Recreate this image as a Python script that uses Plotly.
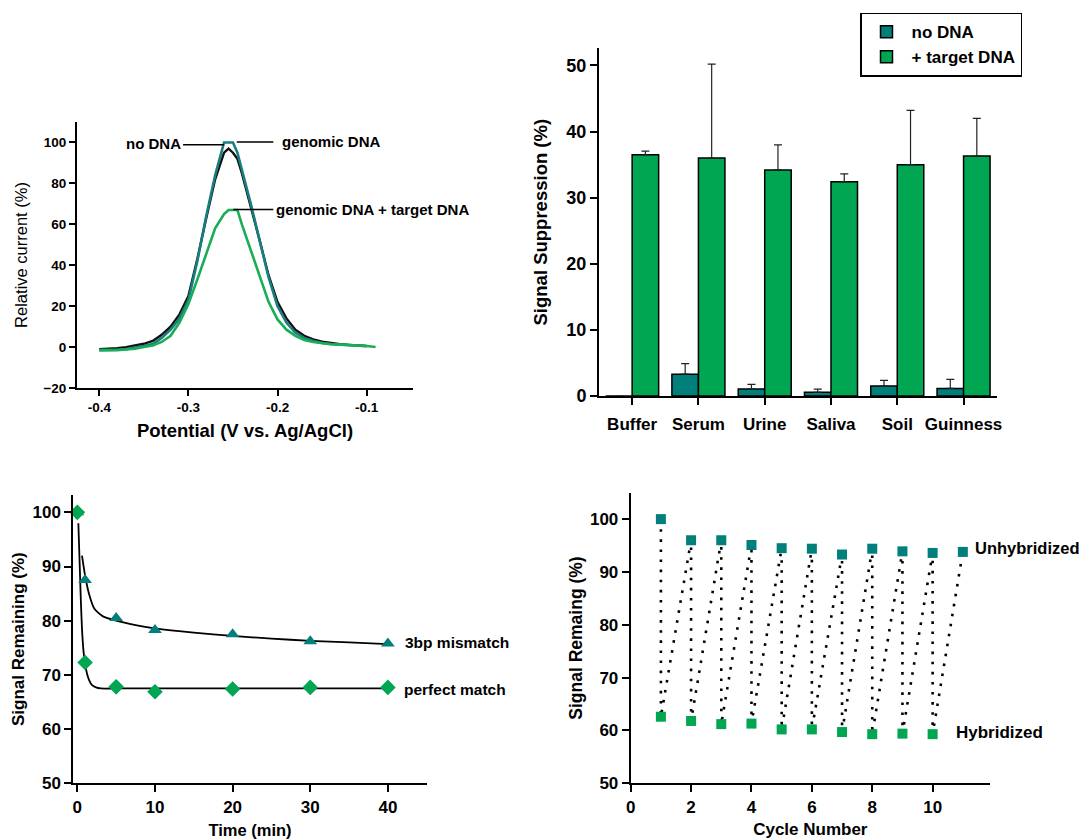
import plotly.graph_objects as go

FONT = "Liberation Sans, Arial, Helvetica, sans-serif"
TEAL = "#007f7b"
GREEN = "#00a651"
TEAL_LINE = "#1a7d80"
GREEN_LINE = "#19ad55"

# ---------------- Panel A: voltammograms ----------------
potential = [-0.40, -0.39, -0.38, -0.37, -0.36, -0.35, -0.34, -0.33, -0.32, -0.31,
             -0.30, -0.29, -0.28, -0.27, -0.26, -0.255, -0.25, -0.245, -0.24, -0.23,
             -0.22, -0.21, -0.20, -0.19, -0.18, -0.17, -0.16, -0.15, -0.14, -0.13,
             -0.12, -0.11, -0.10, -0.09]
cur_no_dna = [-1.0, -0.8, -0.5, 0.0, 0.8, 1.6, 3.0, 6.0, 10.0, 16.0,
              25.0, 43.0, 63.0, 82.0, 95.0, 97.0, 95.0, 92.0, 85.0, 69.0,
              52.0, 35.0, 22.0, 14.0, 8.5, 5.5, 3.8, 2.6, 1.9, 1.4,
              1.1, 0.9, 0.6, None]
cur_genomic = [-1.5, -1.5, -1.3, -1.0, -0.3, 0.5, 1.5, 4.5, 8.5, 14.0,
               23.0, 42.0, 64.0, 84.0, 100.0, 100.0, 100.0, 95.0, 87.0, 70.0,
               52.0, 34.0, 20.0, 12.0, 7.0, 4.5, 3.0, 2.0, 1.5, 1.2,
               1.0, 0.8, 0.4, None]
cur_target = [-1.5, -1.6, -1.5, -1.2, -0.8, 0.0, 0.8, 2.5, 5.5, 12.0,
              21.0, 33.0, 46.0, 58.0, 65.0, 67.0, 67.0, 67.0, 60.0, 47.0,
              34.0, 22.0, 13.5, 8.5, 5.5, 3.5, 2.5, 1.8, 1.4, 1.2,
              1.0, 0.8, 0.5, 0.0]

# ---------------- Panel B: bars ----------------
matrices = ["Buffer", "Serum", "Urine", "Saliva", "Soil", "Guinness"]
supp_no_dna = [0.0, 3.3, 1.05, 0.55, 1.5, 1.15]
supp_no_dna_err = [0.0, 1.6, 0.7, 0.5, 0.85, 1.35]
supp_target = [36.5, 36.0, 34.2, 32.4, 35.0, 36.3]
supp_target_err = [0.55, 14.2, 3.8, 1.2, 8.2, 5.7]

# ---------------- Panel C: kinetics ----------------
time_min = [0, 1, 5, 10, 20, 30, 40]
mismatch = [100.0, 87.5, 80.5, 78.3, 77.5, 76.2, 75.8]
perfect = [100.0, 72.3, 67.8, 66.9, 67.4, 67.7, 67.7]
fit_mm_t = [0.6, 1.0, 1.5, 2.2, 3.3, 5, 7.5, 10, 15, 20, 25, 30, 35, 40]
fit_mm_v = [92.0, 88.3, 85.0, 82.2, 80.8, 80.0, 79.2, 78.6, 77.8, 77.2, 76.7, 76.3, 76.0, 75.7]
fit_pm_t = [0.13, 0.3, 0.45, 0.6, 0.8, 1.0, 1.25, 1.5, 1.9, 2.4, 3, 5, 10, 20, 30, 40]
fit_pm_v = [98.0, 90.5, 83.8, 78.5, 74.3, 72.0, 70.2, 69.1, 68.1, 67.7, 67.5, 67.5, 67.5, 67.5, 67.5, 67.5]

# ---------------- Panel D: regeneration cycles ----------------
cycles_u = [1, 2, 3, 4, 5, 6, 7, 8, 9, 10, 11]
unhybridized = [100.0, 96.0, 96.0, 95.1, 94.5, 94.4, 93.3, 94.4, 93.9, 93.6, 93.8]
cycles_h = [1, 2, 3, 4, 5, 6, 7, 8, 9, 10]
hybridized = [62.6, 61.8, 61.2, 61.3, 60.2, 60.2, 59.7, 59.3, 59.4, 59.3]

fig = go.Figure()

# Panel A traces
fig.add_trace(go.Scatter(x=potential, y=cur_no_dna, mode="lines",
                         line=dict(color="#111111", width=2.4), xaxis="x", yaxis="y",
                         showlegend=False, name="no DNA"))
fig.add_trace(go.Scatter(x=potential, y=cur_genomic, mode="lines",
                         line=dict(color=TEAL_LINE, width=2.6), xaxis="x", yaxis="y",
                         showlegend=False, name="genomic DNA"))
fig.add_trace(go.Scatter(x=potential, y=cur_target, mode="lines",
                         line=dict(color=GREEN_LINE, width=2.6), xaxis="x", yaxis="y",
                         showlegend=False, name="genomic DNA + target DNA"))

# Panel B traces
fig.add_trace(go.Bar(x=matrices, y=supp_no_dna, name="no DNA", xaxis="x2", yaxis="y2",
                     marker=dict(color=TEAL, line=dict(color="black", width=1.5)),
                     error_y=dict(type="data", array=supp_no_dna_err, symmetric=False,
                                  arrayminus=[0] * len(supp_no_dna), color="#222222",
                                  thickness=1.2, width=4)))
fig.add_trace(go.Bar(x=matrices, y=supp_target, name="+ target DNA", xaxis="x2", yaxis="y2",
                     marker=dict(color=GREEN, line=dict(color="black", width=1.5)),
                     error_y=dict(type="data", array=supp_target_err, symmetric=False,
                                  arrayminus=[0] * len(supp_target), color="#222222",
                                  thickness=1.2, width=4)))

# Panel C traces
fig.add_trace(go.Scatter(x=fit_mm_t, y=fit_mm_v, mode="lines", xaxis="x3", yaxis="y3",
                         line=dict(color="black", width=1.8, shape="spline", smoothing=0.6),
                         showlegend=False))
fig.add_trace(go.Scatter(x=fit_pm_t, y=fit_pm_v, mode="lines", xaxis="x3", yaxis="y3",
                         line=dict(color="black", width=1.8, shape="spline", smoothing=0.6),
                         showlegend=False))
fig.add_trace(go.Scatter(x=time_min, y=mismatch, mode="markers", xaxis="x3", yaxis="y3",
                         marker=dict(symbol="triangle-up", size=12, color=TEAL),
                         showlegend=False, cliponaxis=False, name="3bp mismatch"))
fig.add_trace(go.Scatter(x=time_min, y=perfect, mode="markers", xaxis="x3", yaxis="y3",
                         marker=dict(symbol="diamond", size=12, color=GREEN),
                         showlegend=False, cliponaxis=False, name="perfect match"))

# Panel D traces
zig_x, zig_y = [], []
for i in range(len(cycles_h)):
    zig_x += [cycles_u[i], cycles_h[i]]
    zig_y += [unhybridized[i], hybridized[i]]
zig_x.append(cycles_u[-1])
zig_y.append(unhybridized[-1])
fig.add_trace(go.Scatter(x=zig_x, y=zig_y, mode="lines", xaxis="x4", yaxis="y4",
                         line=dict(color="black", width=2.6, dash="2.6px,7.5px"),
                         showlegend=False))
fig.add_trace(go.Scatter(x=cycles_u, y=unhybridized, mode="markers", xaxis="x4", yaxis="y4",
                         marker=dict(symbol="square", size=10, color=TEAL),
                         showlegend=False, cliponaxis=False, name="Unhybridized"))
fig.add_trace(go.Scatter(x=cycles_h, y=hybridized, mode="markers", xaxis="x4", yaxis="y4",
                         marker=dict(symbol="square", size=10, color=GREEN),
                         showlegend=False, cliponaxis=False, name="Hybridized"))


def ax(**kw):
    base = dict(showline=True, linecolor="black", linewidth=2, ticks="outside",
                ticklen=7, tickwidth=2, tickcolor="black", showgrid=False,
                zeroline=False, automargin=False)
    base.update(kw)
    return base


W, H = 1085, 839


def dx(a, b):
    return [a / W, b / W]


def dy(top, bottom):
    return [1 - bottom / H, 1 - top / H]


bold = dict(family=FONT, color="black", weight="bold")

fig.update_layout(
    template="none",
    width=W, height=H,
    margin=dict(l=0, r=0, t=0, b=0, autoexpand=False),
    paper_bgcolor="white", plot_bgcolor="white",
    font=dict(family=FONT, color="black"),
    barmode="group", bargap=0.2, bargroupgap=0,
    xaxis=ax(domain=dx(77, 413), anchor="y", range=[-0.425, -0.048],
             tickvals=[-0.4, -0.3, -0.2, -0.1], ticktext=["-0.4", "-0.3", "-0.2", "-0.1"],
             tickfont=dict(size=13.5, **bold), ticklen=6,
             title=dict(text="Potential (V vs. Ag/AgCl)", font=dict(size=18.5, **bold), standoff=10)),
    yaxis=ax(domain=dy(122, 388), anchor="x", range=[-20, 110], tickvals=[-20, 0, 20, 40, 60, 80, 100],
             tickfont=dict(size=13.5, **bold), ticklen=6,
             title=dict(text="Relative current (%)", font=dict(size=16.5, family=FONT, color="black"),
                        standoff=12)),
    xaxis2=ax(domain=dx(599, 996.7), anchor="y2", type="category", range=[-0.5, 5.5],
              tickfont=dict(size=17, **bold), ticklabelstandoff=5),
    yaxis2=ax(domain=dy(48.3, 396), anchor="x2", range=[0, 52.6], tickvals=[0, 10, 20, 30, 40, 50],
              tickfont=dict(size=18, **bold),
              title=dict(text="Signal Suppression (%)", font=dict(size=18.5, **bold), standoff=14)),
    xaxis3=ax(domain=dx(73.3, 426.7), anchor="y3", range=[-0.52, 45],
              tickvals=[0, 10, 20, 30, 40], tickfont=dict(size=17, **bold),
              title=dict(text="Time (min)", font=dict(size=16.5, **bold), standoff=9)),
    yaxis3=ax(domain=dy(495, 783.3), anchor="x3", range=[50, 103.2],
              tickvals=[50, 60, 70, 80, 90, 100], tickfont=dict(size=17, **bold),
              title=dict(text="Signal Remaining (%)", font=dict(size=17, **bold), standoff=4)),
    xaxis4=ax(domain=dx(630.7, 990), anchor="y4", range=[0, 11.9],
              tickvals=[0, 2, 4, 6, 8, 10], tickfont=dict(size=17, **bold),
              title=dict(text="Cycle Number", font=dict(size=17, **bold), standoff=9)),
    yaxis4=ax(domain=dy(492.7, 783.3), anchor="x4", range=[50, 105],
              tickvals=[50, 60, 70, 80, 90, 100], tickfont=dict(size=17, **bold),
              title=dict(text="Signal Remaing (%)", font=dict(size=17.5, **bold), standoff=3)),
    legend=dict(x=860 / W, y=1 - 12.7 / H, xanchor="left", yanchor="top",
                bordercolor="black", borderwidth=1.5, bgcolor="white",
                font=dict(size=17, **bold), tracegroupgap=0, itemwidth=40),
)

ann_font = dict(size=15, **bold)
annotations = [
    dict(x=-0.306, y=99.4, xref="x", yref="y", text="no DNA", showarrow=False,
         xanchor="right", yanchor="middle", font=ann_font),
    dict(x=-0.197, y=100.6, xref="x", yref="y", text="genomic DNA", showarrow=False,
         xanchor="left", yanchor="middle", font=ann_font),
    dict(x=-0.204, y=67.2, xref="x", yref="y", text="genomic DNA + target DNA", showarrow=False,
         xanchor="left", yanchor="middle", font=ann_font),
    dict(x=42.0, y=75.9, xref="x3", yref="y3", text="3bp mismatch", showarrow=False,
         xanchor="left", yanchor="middle", font=dict(size=15.5, **bold)),
    dict(x=41.8, y=67.4, xref="x3", yref="y3", text="perfect match", showarrow=False,
         xanchor="left", yanchor="middle", font=dict(size=15.5, **bold)),
    dict(x=11.35, y=94.5, xref="x4", yref="y4", text="Unhybridized", showarrow=False,
         xanchor="left", yanchor="middle", font=dict(size=16.5, **bold)),
    dict(x=10.72, y=59.7, xref="x4", yref="y4", text="Hybridized", showarrow=False,
         xanchor="left", yanchor="middle", font=dict(size=17, **bold)),
]
fig.update_layout(annotations=annotations)

shapes = [
    dict(type="line", xref="x", yref="y", x0=-0.306, x1=-0.26, y0=98.9, y1=98.9,
         line=dict(color="black", width=1.5)),
    dict(type="line", xref="x", yref="y", x0=-0.2458, x1=-0.2047, y0=100.2, y1=100.2,
         line=dict(color="black", width=1.5)),
    dict(type="line", xref="x", yref="y", x0=-0.2496, x1=-0.2047, y0=67.2, y1=67.2,
         line=dict(color="black", width=1.5)),
]
fig.update_layout(shapes=shapes)

fig.write_html("out.html", config={"displayModeBar": False},
               post_script="document.body.style.margin='0px';document.body.style.overflow='hidden';")
